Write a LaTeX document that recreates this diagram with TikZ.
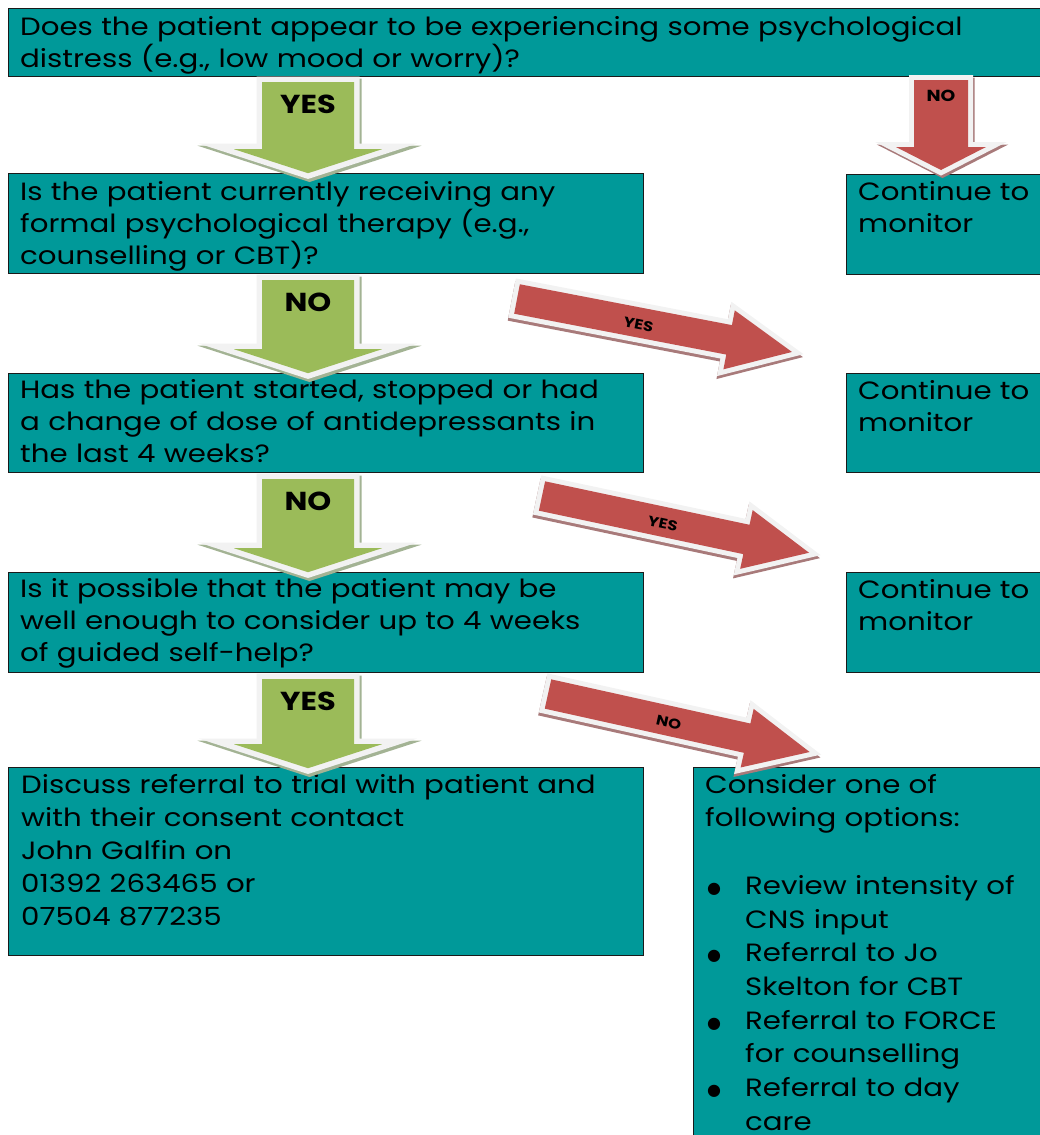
\documentclass[tikz,border=0pt]{standalone}
\usepackage{fontspec}
\setmainfont{Poppins}[FakeStretch=1.17]
\newfontfamily\symfont{DejaVu Sans}
\usetikzlibrary{calc}
\definecolor{tealbox}{HTML}{009999}
\definecolor{agreen}{HTML}{9BBB59}
\definecolor{ared}{HTML}{C0504D}
\definecolor{gshadow}{HTML}{A3B394}
\definecolor{rshadow}{HTML}{A87A7A}
\definecolor{outl}{HTML}{F2F2F2}
\definecolor{bord}{HTML}{1A1A1A}
\newcommand\firstln{\rule{0pt}{22pt}}
\newcommand\bul{\hspace*{2pt}\makebox[38pt][l]{\raisebox{1pt}{\symfont\fontsize{16}{16}\selectfont ●}}}
\newcommand\ind{\hspace*{40pt}}
\tikzset{
  qbox/.style={draw=bord, line width=1.2pt, fill=tealbox, inner sep=0pt, anchor=north west},
  qtext/.style={inner sep=0pt, anchor=north west, align=left, text width=#1,
    font=\fontsize{25}{32}\selectfont},
  rtext/.style={qtext=#1, font=\fontsize{25}{33}\selectfont},
  btext/.style={qtext=#1, font=\fontsize{25}{33.7}\selectfont},
  glabel/.style={inner sep=0pt, anchor=base, font=\bfseries\fontsize{26}{26}\selectfont},
  rlabel/.style={inner sep=0pt, anchor=center, font=\bfseries\fontsize{14}{14}\selectfont},
  shadowline/.style={line width=12pt, line join=miter, miter limit=12},
  outline/.style={draw=outl, line width=11pt, line join=miter, miter limit=12},
  pics/garrow/.style args={#1/#2}{code={
    \path[shadowline, draw=gshadow, xshift=1.5pt, yshift=-2.5pt]
      (-46,0) -- (46,0) -- (46,{#1-24}) -- (74,{#1-24}) -- (0,#1) -- (-74,{#1-24}) -- (-46,{#1-24}) -- cycle;
    \path[outline]
      (-46,0) -- (46,0) -- (46,{#1-24}) -- (74,{#1-24}) -- (0,#1) -- (-74,{#1-24}) -- (-46,{#1-24}) -- cycle;
    \path[fill=agreen]
      (-46,0) -- (46,0) -- (46,{#1-24}) -- (74,{#1-24}) -- (0,#1) -- (-74,{#1-24}) -- (-46,{#1-24}) -- cycle;
    \node[glabel] (-lab) at (0,31) {#2};
  }},
  pics/rdown/.style args={#1/#2}{code={
    \path[shadowline, line width=10pt, draw=rshadow, xshift=1.5pt, yshift=-2.5pt]
      (-27,0) -- (27,0) -- (27,{#1-23}) -- (45,{#1-23}) -- (0,#1) -- (-45,{#1-23}) -- (-27,{#1-23}) -- cycle;
    \path[outline, line width=10pt]
      (-27,0) -- (27,0) -- (27,{#1-23}) -- (45,{#1-23}) -- (0,#1) -- (-45,{#1-23}) -- (-27,{#1-23}) -- cycle;
    \path[fill=ared]
      (-27,0) -- (27,0) -- (27,{#1-23}) -- (45,{#1-23}) -- (0,#1) -- (-45,{#1-23}) -- (-27,{#1-23}) -- cycle;
    \node[rlabel, font=\bfseries\fontsize{16}{16}\selectfont] (-lab) at (0,16) {#2};
  }},
  pics/rdiag/.style args={#1/#2}{code={
    \path[shadowline, line width=10pt, draw=rshadow, yshift=-3pt]
      (0,-15) -- ({#1-64},-15) -- ({#1-64},-30) -- (#1,0) -- ({#1-64},30) -- ({#1-64},15) -- (0,15) -- cycle;
    \path[outline, line width=10pt]
      (0,-15) -- ({#1-64},-15) -- ({#1-64},-30) -- (#1,0) -- ({#1-64},30) -- ({#1-64},15) -- (0,15) -- cycle;
    \path[fill=ared]
      (0,-15) -- ({#1-64},-15) -- ({#1-64},-30) -- (#1,0) -- ({#1-64},30) -- ({#1-64},15) -- (0,15) -- cycle;
    \node[rlabel, transform shape] (-lab) at (124,2) {#2};
  }}
}
\begin{document}
\begin{tikzpicture}[x=1pt, y=-1pt]
\useasboundingbox (0,0) rectangle (1040,1135);
\clip (0,0) rectangle (1040,1135);

% boxes
\node[qbox, minimum width=1045pt, minimum height=68pt] (q1) at (8,8) {};
\node[qbox, minimum width=635pt, minimum height=100pt] (q2) at (8,173) {};
\node[qbox, minimum width=205pt, minimum height=100pt] (c1) at (846,174) {};
\node[qbox, minimum width=635pt, minimum height=99pt] (q3) at (8,373) {};
\node[qbox, minimum width=205pt, minimum height=99pt] (c2) at (846,373) {};
\node[qbox, minimum width=635pt, minimum height=100pt] (q4) at (8,572) {};
\node[qbox, minimum width=205pt, minimum height=100pt] (c3) at (846,572) {};
\node[qbox, minimum width=635pt, minimum height=188pt] (r1) at (8,767) {};
\node[qbox, minimum width=360pt, minimum height=380pt] (r2) at (693,767) {};

% texts
\node[qtext=1005pt] (q1t) at (20,13) {\firstln Does the patient appear to be experiencing some psychological\\distress (e.g., low mood or worry)?};
\node[qtext=615pt] (q2t) at (20,178) {\firstln Is the patient currently receiving any\\formal psychological therapy (e.g.,\\counselling or CBT)?};
\node[qtext=615pt] (q3t) at (20,376) {\firstln Has the patient started, stopped or had\\a change of dose of antidepressants in\\the last 4 weeks?};
\node[qtext=615pt] (q4t) at (20,575) {\firstln Is it possible that the patient may be\\well enough to consider up to 4 weeks\\of guided self-help?};
\node[qtext=178pt] (c1t) at (858,178) {\firstln Continue to\\monitor};
\node[qtext=178pt] (c2t) at (858,377) {\firstln Continue to\\monitor};
\node[qtext=178pt] (c3t) at (858,576) {\firstln Continue to\\monitor};
\node[rtext=615pt] (r1t) at (21,771) {\firstln Discuss referral to trial with patient and\\with their consent contact\\John Galfin on\\01392 263465 or\\07504 877235};
\node[btext=330pt] (r2t) at (705,771) {\firstln Consider one of\\following options:\\\mbox{}\\
\bul Review intensity of\\\ind CNS input\\
\bul Referral to Jo\\\ind Skelton for CBT\\
\bul Referral to FORCE\\\ind for counselling\\
\bul Referral to day\\\ind care};

% arrow anchor coordinates
\coordinate (gx) at (308,0);
\coordinate (g1) at ($(q1.south -| gx)+(0,5)$);
\coordinate (g2) at ($(q2.south -| gx)+(0,6)$);
\coordinate (g3) at ($(q3.south -| gx)+(0,6)$);
\coordinate (g4) at ($(q4.south -| gx)+(0,6)$);
\coordinate (rn) at (941,80);
\coordinate (d1) at (517,299);
\coordinate (d2) at (542,496);
\coordinate (d3) at (548,694);

% arrows
\pic (ga1) at (g1) {garrow={91/YES}};
\pic (ga2) at (g2) {garrow={93/NO}};
\pic (ga3) at (g3) {garrow={93/NO}};
\pic (ga4) at (g4) {garrow={89/YES}};
\pic (na) at (rn) {rdown={90/NO}};
\pic[rotate=-10.9] (da1) at (d1) {rdiag={280/YES}};
\pic[rotate=-12.0] (da2) at (d2) {rdiag={273/YES}};
\pic[rotate=-12.5] (da3) at (d3) {rdiag={268/NO}};
\end{tikzpicture}
\end{document}
